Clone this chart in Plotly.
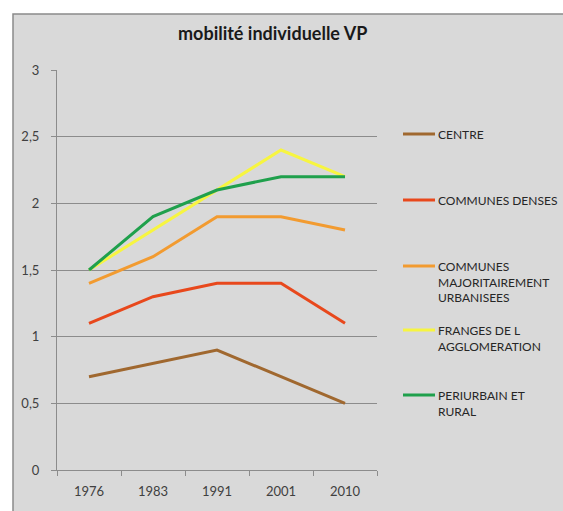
import plotly.graph_objects as go

years = ["1976", "1983", "1991", "2001", "2010"]
series_names = ["CENTRE", "COMMUNES DENSES", "COMMUNES MAJORITAIREMENT URBANISEES",
                "FRANGES DE L AGGLOMERATION", "PERIURBAIN ET RURAL"]
legend_labels = ["CENTRE", "COMMUNES DENSES", "COMMUNES<br>MAJORITAIREMENT<br>URBANISEES",
                 "FRANGES DE L<br>AGGLOMERATION", "PERIURBAIN ET<br>RURAL"]
centre = [0.7, 0.8, 0.9, 0.7, 0.5]
communes_denses = [1.1, 1.3, 1.4, 1.4, 1.1]
communes_maj = [1.4, 1.6, 1.9, 1.9, 1.8]
franges = [1.5, 1.8, 2.1, 2.4, 2.2]
periurbain = [1.5, 1.9, 2.1, 2.2, 2.2]
colors = ["#a0682f", "#e8481c", "#f29b30", "#f7f540", "#1fa04c"]
y_ticks = [0, 0.5, 1, 1.5, 2, 2.5, 3]

values = [centre, communes_denses, communes_maj, franges, periurbain]

W, H = 563, 511
L, R, T, B = 57, 186, 70, 41
pw, ph = W - L - R, H - T - B

def px_x(x):
    return (x - L) / pw

def px_y(y):
    return (H - B - y) / ph

fig = go.Figure()
for name, vals, col in zip(series_names, values, colors):
    fig.add_trace(go.Scatter(x=years, y=vals, mode="lines", name=name,
                             line=dict(color=col, width=3), showlegend=False))

font = "Lato, 'Open Sans', sans-serif"
shapes = [
    dict(type="rect", xref="paper", yref="paper",
         x0=px_x(13), x1=px_x(570), y0=px_y(14), y1=px_y(520),
         fillcolor="#d9d9d9", line=dict(color="#8a8a8a", width=1.5), layer="below"),
]
annotations = [
    dict(text="<b>mobilité individuelle VP</b>", xref="paper", yref="paper",
         x=px_x(272), y=px_y(33), showarrow=False, xanchor="center", yanchor="middle",
         font=dict(family=font, size=18, color="#1a1a1a")),
]
leg_y = [134, 200, 266, 330, 395]
for lab, col, ly in zip(legend_labels, colors, leg_y):
    shapes.append(dict(type="line", xref="paper", yref="paper",
                       x0=px_x(403), x1=px_x(435), y0=px_y(ly), y1=px_y(ly),
                       line=dict(color=col, width=3)))
    annotations.append(dict(text=lab, xref="paper", yref="paper",
                            x=px_x(436), y=px_y(ly - 9), showarrow=False,
                            xanchor="left", yanchor="top", align="left",
                            font=dict(family=font, size=12, color="#262626")))

fig.update_layout(
    width=W, height=H,
    margin=dict(l=L, r=R, t=T, b=B, pad=0),
    paper_bgcolor="white", plot_bgcolor="#d9d9d9",
    separators=", ",
    shapes=shapes, annotations=annotations,
    showlegend=False,
    xaxis=dict(type="category", categoryorder="array", categoryarray=years,
               range=[-0.5, 4.5], showgrid=False, showline=True, linecolor="#8c8c8c",
               ticks="outside", ticklen=5, tickcolor="#8c8c8c", tickson="boundaries",
               ticklabelstandoff=9,
               tickfont=dict(family=font, size=13, color="#404040"), zeroline=False),
    yaxis=dict(range=[0, 3], tickvals=y_ticks, showgrid=True, gridcolor="#8c8c8c",
               gridwidth=1, showline=True, linecolor="#8c8c8c", ticks="outside",
               ticklen=5, tickcolor="#8c8c8c", zeroline=False, ticklabelstandoff=9,
               tickfont=dict(family=font, size=13, color="#404040")),
)
fig.write_html("out.html", config={"displayModeBar": False},
               post_script="document.body.style.margin='0';"
                           "document.documentElement.style.overflow='hidden';")
